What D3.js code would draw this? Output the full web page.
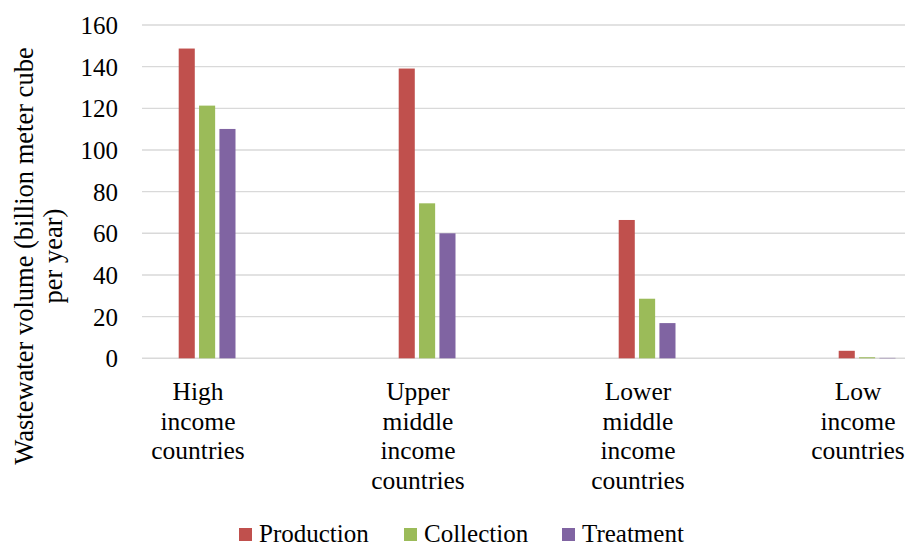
<!DOCTYPE html>
<html>
<head>
<meta charset="utf-8">
<script src="https://cdn.jsdelivr.net/npm/d3@7"></script>
<style>
  html, body { margin: 0; padding: 0; background: #fff; }
  svg { display: block; }
  svg text { font-family: "Liberation Serif", "Times New Roman", Tinos, "DejaVu Serif", "Noto Serif", serif; fill: #000; }
</style>
</head>
<body>
<svg id="chart" width="905" height="547"></svg>
<script>
// Wastewater volumes by country income group (billion m³ per year)
const categories = [
  ["High", "income", "countries"],
  ["Upper", "middle", "income", "countries"],
  ["Lower", "middle", "income", "countries"],
  ["Low", "income", "countries"]
];
const seriesNames = ["Production", "Collection", "Treatment"];
const production = [148.7, 139.1, 66.4, 3.6];
const collection = [121.3, 74.4, 28.6, 0.5];
const treatment  = [110.1, 60.0, 16.9, 0.2];
const colors = ["#c0504d", "#9bbb59", "#8064a2"];
const yTicks = [0, 20, 40, 60, 80, 100, 120, 140, 160];

const values = [production, collection, treatment];
const catKeys = categories.map(c => c.join(" "));
const serif = '"Liberation Serif", "Times New Roman", Tinos, "DejaVu Serif", "Noto Serif", serif';

const svg = d3.select("#chart");
const gridLeft = 142, gridRight = 905;

const y = d3.scaleLinear().domain([0, 160]).range([358.3, 25]);
const x = d3.scaleBand().domain(catKeys).range([88, 968]).padding(0);
const xs = d3.scaleBand().domain(seriesNames).range([-19.3, 37.5]).paddingInner(0.21).paddingOuter(0);

// horizontal gridlines
svg.append("g")
  .selectAll("line")
  .data(yTicks)
  .join("line")
  .attr("x1", gridLeft).attr("x2", gridRight)
  .attr("y1", d => y(d)).attr("y2", d => y(d))
  .attr("stroke", "#d9d9d9")
  .attr("stroke-width", 1.4);

// y tick labels
const yAxis = d3.axisLeft(y).tickValues(yTicks).tickSize(0).tickPadding(0);
const gy = svg.append("g").attr("transform", "translate(118,0)").call(yAxis)
  .attr("font-family", serif).attr("font-size", 25);
gy.select(".domain").remove();
gy.selectAll("text")
  .attr("fill", "#000")
  .attr("dy", "0.34em");

// bars
const groups = svg.append("g")
  .selectAll("g")
  .data(catKeys)
  .join("g")
  .attr("transform", d => `translate(${x(d) + x.bandwidth() / 2},0)`);

groups.selectAll("rect")
  .data((d, i) => seriesNames.map((s, j) => ({ s, v: values[j][i], c: colors[j] })))
  .join("rect")
  .attr("x", d => xs(d.s))
  .attr("width", xs.bandwidth())
  .attr("y", d => y(d.v))
  .attr("height", d => y(0) - y(d.v))
  .attr("fill", d => d.c);

// category labels, one word per line
const labels = svg.append("g")
  .attr("font-family", serif)
  .selectAll("text")
  .data(categories)
  .join("text")
  .attr("text-anchor", "middle")
  .attr("font-size", 25.5)
  .attr("x", (d, i) => x(catKeys[i]) + x.bandwidth() / 2)
  .attr("y", 400);
labels.selectAll("tspan")
  .data(d => d)
  .join("tspan")
  .attr("x", function () { return d3.select(this.parentNode).attr("x"); })
  .attr("dy", (d, i) => i === 0 ? 0 : 29.6)
  .text(d => d);

// y axis title
const title = svg.append("text")
  .attr("font-family", serif)
  .attr("transform", "translate(0,256) rotate(-90)")
  .attr("text-anchor", "middle")
  .attr("font-size", 26.5);
title.append("tspan").attr("x", 0).attr("y", 33).text("Wastewater volume (billion meter cube");
title.append("tspan").attr("x", 0).attr("y", 62).text("per year)");

// legend
const legendX = [239, 404, 562];
const legend = svg.append("g")
  .attr("font-family", serif)
  .selectAll("g")
  .data(seriesNames)
  .join("g")
  .attr("transform", (d, i) => `translate(${legendX[i]},528)`);
legend.append("rect")
  .attr("width", 13).attr("height", 13)
  .attr("fill", (d, i) => colors[i]);
legend.append("text")
  .attr("x", 20).attr("y", 13.5)
  .attr("font-size", 25)
  .text(d => d);
</script>
</body>
</html>
